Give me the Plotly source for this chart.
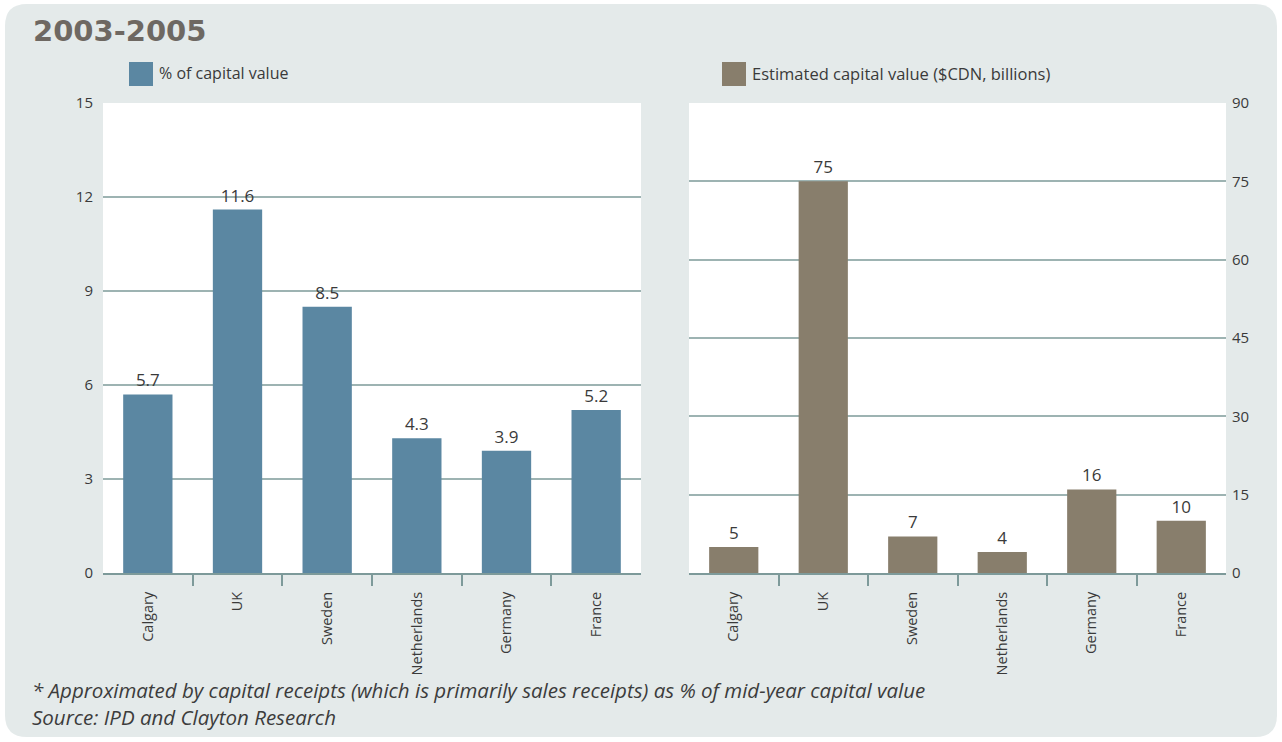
import plotly.graph_objects as go

# Data
categories = ["Calgary", "UK", "Sweden", "Netherlands", "Germany", "France"]
pct_capital_value = [5.7, 11.6, 8.5, 4.3, 3.9, 5.2]
est_capital_value = [5, 75, 7, 4, 16, 10]
left_ticks = [0, 3, 6, 9, 12, 15]
right_ticks = [0, 15, 30, 45, 60, 75, 90]

title_text = "2003-2005"
legend_left = "% of capital value"
legend_right = "Estimated capital value ($CDN, billions)"
footnote_lines = [
    "* Approximated by capital receipts (which is primarily sales receipts) as % of mid-year capital value",
    "Source: IPD and Clayton Research",
]

# Styling
W, H = 1282, 742
FONT = "Open Sans"
PANEL = "#e4eaea"
BLUE = "#5b87a2"
TAUPE = "#887e6c"
GRID = "#9db3b2"
AXIS = "#7d9a9a"
TXT = "#3a3a3a"


def fx(px):
    return px / W


def fy(py):
    return 1 - py / H


def rounded_rect(x0, y0, x1, y1, r):
    # pixel box -> paper-space path with rounded corners
    rx, ry = r / W, r / H
    X0, X1 = fx(x0), fx(x1)
    Yt, Yb = fy(y0), fy(y1)
    return (
        f"M {X0 + rx},{Yt} L {X1 - rx},{Yt} Q {X1},{Yt} {X1},{Yt - ry} "
        f"L {X1},{Yb + ry} Q {X1},{Yb} {X1 - rx},{Yb} "
        f"L {X0 + rx},{Yb} Q {X0},{Yb} {X0},{Yb + ry} "
        f"L {X0},{Yt - ry} Q {X0},{Yt} {X0 + rx},{Yt} Z"
    )


fig = go.Figure()

fig.add_trace(go.Bar(
    x=categories, y=pct_capital_value, xaxis="x", yaxis="y",
    marker=dict(color=BLUE, line=dict(width=0)),
    texttemplate="%{y:.1f}", textposition="outside", constraintext="none",
    textfont=dict(family=FONT, size=17, color=TXT), cliponaxis=False,
    showlegend=False, hoverinfo="skip",
))
fig.add_trace(go.Bar(
    x=categories, y=est_capital_value, xaxis="x2", yaxis="y2",
    marker=dict(color=TAUPE, line=dict(width=0)),
    texttemplate="%{y}", textposition="outside", constraintext="none",
    textfont=dict(family=FONT, size=17, color=TXT), cliponaxis=False,
    showlegend=False, hoverinfo="skip",
))

# invisible traces so the overlaid separator axes get rendered
n = len(categories)
for xa, ya in (("x3", "y"), ("x4", "y2")):
    fig.add_trace(go.Scatter(
        x=[-0.5, n - 0.5], y=[0, 0], xaxis=xa, yaxis=ya, mode="markers",
        marker=dict(size=1, opacity=0), showlegend=False, hoverinfo="skip",
    ))

xcommon = dict(
    type="category", tickangle=-90, showline=True, linecolor=AXIS, linewidth=2,
    ticks="", ticklabelstandoff=11, automargin=False,
    tickfont=dict(family=FONT, size=14.5, color=TXT), showgrid=False, fixedrange=True,
)
# separators between categories, drawn by an overlaid numeric axis
sepcommon = dict(
    type="linear", range=[-0.5, n - 0.5],
    tickvals=[i + 0.5 for i in range(n - 1)],
    ticks="outside", ticklen=12, tickwidth=1.5, tickcolor=AXIS,
    showticklabels=False, showline=False, showgrid=False, zeroline=False,
    automargin=False, fixedrange=True,
)
ycommon = dict(
    showgrid=True, gridcolor=GRID, gridwidth=1.5, zeroline=False, ticks="",
    tickfont=dict(family=FONT, size=15, color=TXT), fixedrange=True,
    automargin=False,
)

ydom = [fy(573), fy(103)]
fig.update_layout(
    width=W, height=H, margin=dict(l=0, r=0, t=0, b=0, autoexpand=False),
    paper_bgcolor="white", plot_bgcolor="white",
    bargap=0.45,
    xaxis=dict(domain=[fx(103), fx(641)], anchor="y", **xcommon),
    yaxis=dict(domain=ydom, anchor="x", range=[0, 15], tickvals=left_ticks,
               ticklabelstandoff=9, **ycommon),
    xaxis2=dict(domain=[fx(689), fx(1226)], anchor="y2", **xcommon),
    yaxis2=dict(domain=ydom, anchor="x2", side="right", range=[0, 90],
                tickvals=right_ticks, ticklabelstandoff=5, **ycommon),
    xaxis3=dict(overlaying="x", anchor="y", side="bottom", **sepcommon),
    xaxis4=dict(overlaying="x2", anchor="y2", side="bottom", **sepcommon),
)

shapes = [
    # rounded background panel
    dict(type="path", path=rounded_rect(5, 4, 1277, 737, 22), xref="paper", yref="paper",
         fillcolor=PANEL, line=dict(width=0), layer="below"),
    # white plotting areas
    dict(type="rect", xref="x domain", yref="y domain", x0=0, x1=1, y0=0, y1=1,
         fillcolor="white", line=dict(width=0), layer="below"),
    dict(type="rect", xref="x2 domain", yref="y2 domain", x0=0, x1=1, y0=0, y1=1,
         fillcolor="white", line=dict(width=0), layer="below"),
    # legend swatches
    dict(type="rect", xref="paper", yref="paper", x0=fx(129), x1=fx(153), y0=fy(86), y1=fy(62),
         fillcolor=BLUE, line=dict(width=0)),
    dict(type="rect", xref="paper", yref="paper", x0=fx(722), x1=fx(746), y0=fy(86), y1=fy(62),
         fillcolor=TAUPE, line=dict(width=0)),
]
fig.update_layout(shapes=shapes)

annotations = [
    dict(text=f"<b>{title_text}</b>", x=fx(31), y=fy(31), xref="paper", yref="paper",
         xanchor="left", yanchor="middle", showarrow=False,
         font=dict(family="DejaVu Sans", size=29, color="#6e6862")),
    dict(text=legend_left, x=fx(157), y=fy(73), xref="paper", yref="paper",
         xanchor="left", yanchor="middle", showarrow=False,
         font=dict(family=FONT, size=16, color=TXT)),
    dict(text=legend_right, x=fx(750), y=fy(73), xref="paper", yref="paper",
         xanchor="left", yanchor="middle", showarrow=False,
         font=dict(family=FONT, size=16.5, color=TXT)),
]
for i, line in enumerate(footnote_lines):
    annotations.append(dict(
        text=f"<i>{line}</i>", x=fx(30), y=fy(690 + 27 * i), xref="paper", yref="paper",
        xanchor="left", yanchor="middle", showarrow=False,
        font=dict(family=FONT, size=20.5, color="#3c3c3c"),
    ))
fig.update_layout(annotations=annotations)

fig.write_html("out.html")
